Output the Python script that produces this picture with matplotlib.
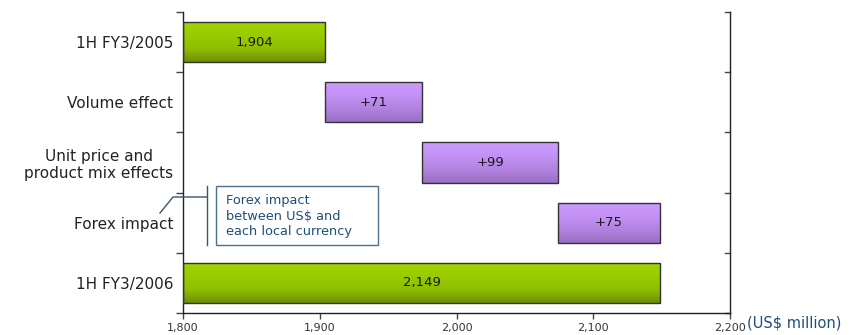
import numpy as np
import matplotlib
matplotlib.use("Agg")
import matplotlib.pyplot as plt
from matplotlib.patches import Rectangle
from matplotlib.lines import Line2D
from matplotlib.transforms import blended_transform_factory

plt.rcParams["font.family"] = ["DejaVu Sans"]

categories = ["1H FY3/2005", "Volume effect", "Unit price and\nproduct mix effects",
              "Forex impact", "1H FY3/2006"]
start_total = 1904
changes = [71, 99, 75]
end_total = 2149
bar_texts = ["1,904", "+71", "+99", "+75", "2,149"]
x_ticks = [1800, 1900, 2000, 2100, 2200]
x_tick_labels = ["1,800", "1,900", "2,000", "2,100", "2,200"]
unit_label = "(US\\$ million)"
note_text = "Forex impact\nbetween US\\$ and\neach local currency"

# bar spans (left, right) built from the totals and increments
spans = [(1800, start_total)]
running = start_total
for c in changes:
    spans.append((running, running + c))
    running += c
spans.append((1800, end_total))
kinds = ["total", "change", "change", "change", "total"]

green_grad = ["#a4d400", "#99cc00", "#8fbf00", "#6f8f00"]
purple_grad = ["#cc9cff", "#c492f5", "#b283e0", "#9b6fc4"]

fig = plt.figure(figsize=(8.52, 3.35), dpi=100)
ax = fig.add_axes([183 / 852, 1 - 313 / 335, 547 / 852, 301 / 335])

bar_h = 0.67
for i, ((l, r), kind) in enumerate(zip(spans, kinds)):
    cols = green_grad if kind == "total" else purple_grad
    cmap = matplotlib.colors.LinearSegmentedColormap.from_list("g", cols)
    grad = np.linspace(0, 1, 64).reshape(-1, 1)
    y0, y1 = i - bar_h / 2, i + bar_h / 2
    im = ax.imshow(grad, cmap=cmap, aspect="auto", extent=(l, r, y1, y0),
                   interpolation="bilinear", zorder=2)
    rect = Rectangle((l, y0), r - l, bar_h, facecolor="none",
                     edgecolor="#333333", linewidth=1.0, zorder=3)
    ax.add_patch(rect)
    im.set_clip_path(rect)
    ax.text((l + r) / 2, i, bar_texts[i], ha="center", va="center",
            fontsize=9.5, color="#1a1a1a", zorder=4)

ax.set_xlim(1800, 2200)
ax.set_ylim(4.5, -0.5)

# axes styling
ax.spines["top"].set_visible(False)
for s in ("left", "right", "bottom"):
    ax.spines[s].set_color("#222222")
    ax.spines[s].set_linewidth(1.0)

ax.set_xticks(x_ticks)
ax.set_xticklabels(x_tick_labels, fontsize=8, color="#333333")
ax.tick_params(axis="x", direction="out", length=4, width=1, color="#444444", pad=3)

bounds = np.arange(-0.5, 5.0, 1.0)
ax.set_yticks(bounds)
ax.set_yticklabels([])
ax.set_yticks(np.arange(5), minor=True)
ax.set_yticklabels(categories, minor=True, fontsize=11, color="#222222",
                   ha="right", multialignment="center")
ax.tick_params(axis="y", which="minor", length=0, pad=7)
ax.tick_params(axis="y", which="major", direction="out", length=5, width=1,
               color="#444444", right=False)

# right-hand axis ticks point inward
tr = blended_transform_factory(ax.transAxes, ax.transData)
dx = 5 / 547
for b in bounds:
    ax.add_line(Line2D([1 - dx, 1], [b, b], transform=tr, color="#444444",
                       linewidth=1.0, clip_on=False))

fig.text(747 / 852, 1 - 323 / 335, unit_label, fontsize=10.5, color="#1f4e79",
         ha="left", va="center")

# callout explaining the forex line
box_l, box_r = 216 / 852, 378 / 852
box_t, box_b = 1 - 186 / 335, 1 - 245 / 335
fig.patches.append(Rectangle((box_l, box_b), box_r - box_l, box_t - box_b,
                             transform=fig.transFigure, facecolor="white",
                             edgecolor="#4f6f8f", linewidth=1.0, zorder=5))
fig.text(226 / 852, 1 - 216 / 335, note_text, fontsize=9.3, color="#1f4e79",
         ha="left", va="center", linespacing=1.25, zorder=6)
line_col = "#3a5570"
fig.lines.append(Line2D([207 / 852, 207 / 852], [1 - 186 / 335, 1 - 245 / 335],
                        transform=fig.transFigure, color=line_col, linewidth=1.0))
fig.lines.append(Line2D([160 / 852, 173 / 852, 207 / 852],
                        [1 - 213 / 335, 1 - 197 / 335, 1 - 197 / 335],
                        transform=fig.transFigure, color=line_col, linewidth=1.0))

fig.savefig("out.png", dpi=100)
